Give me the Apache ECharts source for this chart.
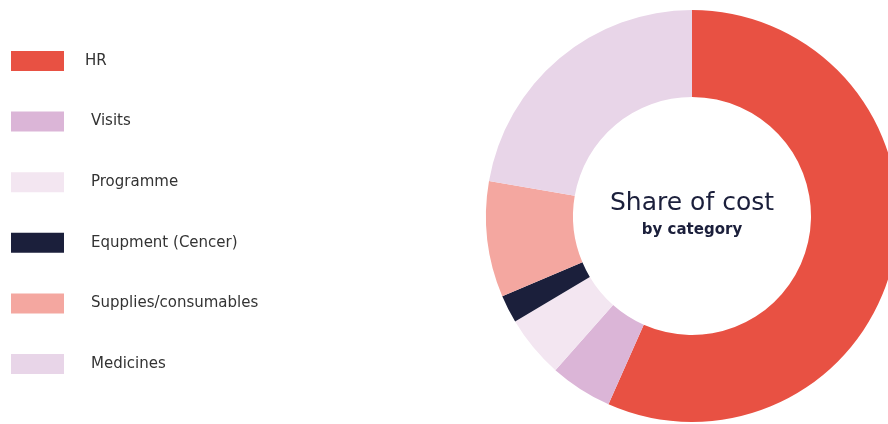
<!doctype html>
<html lang="en">
<head>
<meta charset="UTF-8">
<title>Share of cost by category</title>
<style>
  html, body { margin: 0; padding: 0; background: #fff; }
  #main { width: 888px; height: 424px; }
</style>
</head>
<body>
<div id="main"></div>
<script src="https://cdn.jsdelivr.net/npm/echarts@6/dist/echarts.min.js"></script>
<script>
var categories = ['HR', 'Visits', 'Programme', 'Equpment (Cencer)', 'Supplies/consumables', 'Medicines'];
var shares = [56.7, 4.9, 4.9, 2.2, 9.1, 22.3];
var colors = ['#E85143', '#DBB5D7', '#F3E6F1', '#1B1F3B', '#F4A7A0', '#E8D5E8'];

var myChart = echarts.init(document.getElementById('main'));

var pieData = [];
for (var i = 0; i < categories.length; i++) {
    pieData.push({ name: categories[i], value: shares[i], itemStyle: { color: colors[i] } });
}

// HR label sits a bit closer to its swatch than the others
var legendData = categories.map(function (c) {
    return { name: c, textStyle: { padding: [0, 0, 0, c === 'HR' ? 16 : 22] } };
});

var option = {
    animation: false,
    title: {
        text: 'Share of cost',
        subtext: 'by category',
        left: 692,
        top: 191,
        padding: 0,
        textAlign: 'center',
        itemGap: 7,
        textStyle: {
            fontFamily: 'DejaVu Sans',
            fontSize: 25,
            fontWeight: 'normal',
            color: '#1B1F3B'
        },
        subtextStyle: {
            fontFamily: 'DejaVu Sans',
            fontSize: 15,
            fontWeight: 'bold',
            color: '#1B1F3B'
        }
    },
    legend: {
        orient: 'vertical',
        left: 11,
        top: 51,
        padding: 0,
        itemWidth: 53,
        itemHeight: 20,
        itemGap: 40.6,
        icon: 'rect',
        data: legendData,
        textStyle: {
            fontFamily: 'DejaVu Sans',
            fontSize: 15,
            color: '#333'
        }
    },
    series: [
        {
            type: 'pie',
            center: [692, 216],
            radius: [119, 206],
            startAngle: 90,
            clockwise: true,
            label: { show: false },
            labelLine: { show: false },
            emphasis: { disabled: true },
            data: pieData
        }
    ]
};

myChart.setOption(option);
</script>
</body>
</html>
